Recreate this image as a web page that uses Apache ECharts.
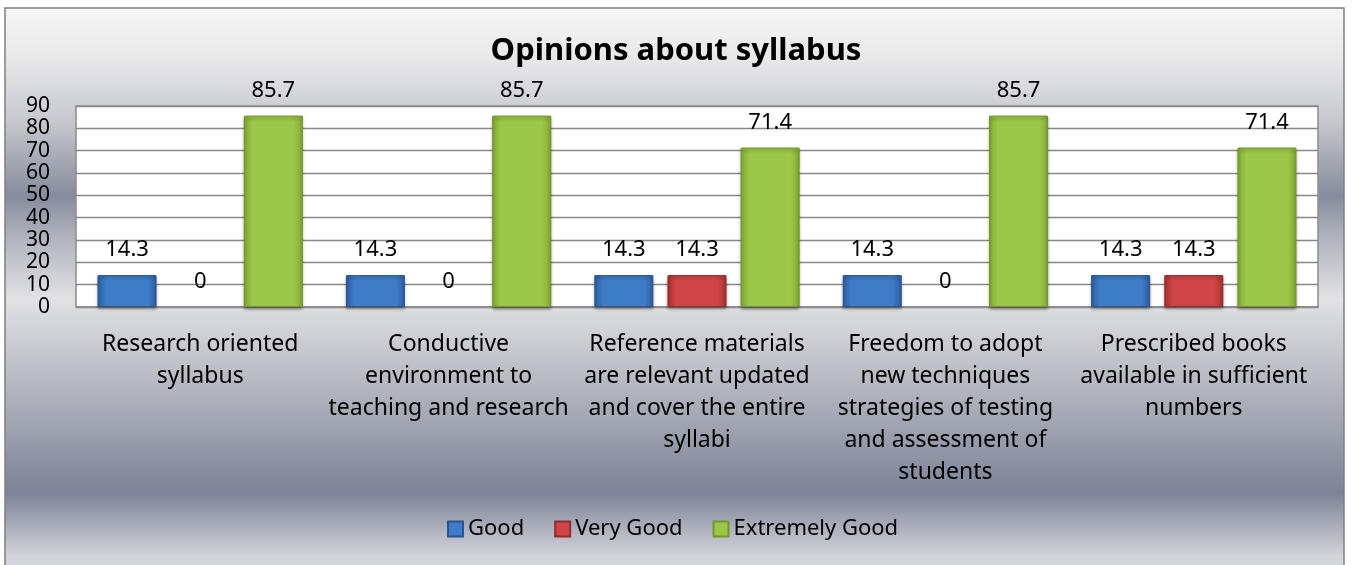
<!DOCTYPE html>
<html>
<head>
    <meta charset="utf-8">
    <title>Opinions about syllabus</title>
    <script src="https://cdn.jsdelivr.net/npm/echarts@6/dist/echarts.min.js"></script>
    <style>
        html, body { margin: 0; padding: 0; background: #fff; }
    </style>
</head>
<body>
    <div id="demo" style="width: 1352px;height:565px;"></div>
    <script type="text/javascript">
        // data
        var categories = [
            'Research oriented\nsyllabus',
            'Conductive\nenvironment to\nteaching and research',
            'Reference materials\nare relevant updated\nand cover the entire\nsyllabi',
            'Freedom to adopt\nnew techniques\nstrategies of testing\nand assessment of\nstudents',
            'Prescribed books\navailable in sufficient\nnumbers'
        ];
        var good = [14.3, 14.3, 14.3, 14.3, 14.3];
        var veryGood = [0, 0, 14.3, 0, 14.3];
        var extremelyGood = [85.7, 85.7, 71.4, 85.7, 71.4];
        var yTicks = { min: 0, max: 90, step: 10 };

        var font = "'Noto Sans', 'Open Sans', sans-serif";

        // bevel-ish bar fill: darker edges, lighter middle
        function barFill(edge, mid) {
            return new echarts.graphic.LinearGradient(0, 0, 1, 0, [
                { offset: 0, color: edge },
                { offset: 0.15, color: mid },
                { offset: 0.85, color: mid },
                { offset: 1, color: edge }
            ]);
        }

        function makeSeries(name, data, edge, mid, border) {
            return {
                name: name,
                type: 'bar',
                // zero bars draw nothing in the original, so hide the bar but keep the label
                data: data.map(function (v) {
                    if (v === 0) {
                        return { value: 0, itemStyle: { borderWidth: 0, opacity: 0 } };
                    }
                    return v;
                }),
                barWidth: 59,
                barGap: '24%',
                itemStyle: {
                    color: barFill(edge, mid),
                    borderColor: border,
                    borderWidth: 1,
                    shadowColor: 'rgba(0,0,0,0.35)',
                    shadowBlur: 3,
                    shadowOffsetY: 2
                },
                label: {
                    show: true,
                    position: 'top',
                    distance: 14,
                    color: '#000',
                    fontSize: 22,
                    fontFamily: font,
                    opacity: 1
                }
            };
        }

        var chart = echarts.init(document.getElementById('demo'));

        var option = {
            backgroundColor: '#fff',
            animation: false,
            graphic: [{
                type: 'rect',
                z: -10,
                silent: true,
                shape: { x: 5, y: 8, width: 1339, height: 570 },
                style: {
                    stroke: '#7f7f7f',
                    lineWidth: 1.5,
                    fill: new echarts.graphic.LinearGradient(0, 0, 0, 1, [
                        { offset: 0, color: '#f7f7f7' },
                        { offset: 0.09, color: '#e8e8e9' },
                        { offset: 0.2, color: '#c6c8cd' },
                        { offset: 0.33, color: '#868c9d' },
                        { offset: 0.39, color: '#a9adb8' },
                        { offset: 0.51, color: '#e2e2e4' },
                        { offset: 0.58, color: '#cdced3' },
                        { offset: 0.72, color: '#a3a7b3' },
                        { offset: 0.85, color: '#7d8397' },
                        { offset: 0.96, color: '#d3d4d9' },
                        { offset: 1, color: '#dadadd' }
                    ])
                }
            }],
            title: {
                text: 'Opinions about syllabus',
                left: 'center',
                top: 31,
                textStyle: {
                    fontFamily: font,
                    fontSize: 31,
                    fontWeight: 'bold',
                    color: '#000'
                }
            },
            legend: {
                bottom: 20,
                left: 442,
                itemWidth: 15,
                itemHeight: 15,
                itemGap: 30,
                icon: 'rect',
                textStyle: { fontFamily: font, fontSize: 22, color: '#000' },
                data: ['Good', 'Very Good', 'Extremely Good']
            },
            grid: {
                left: 76,
                right: 34,
                top: 106,
                bottom: 258,
                show: true,
                backgroundColor: '#fff',
                borderColor: '#8c8c8c',
                borderWidth: 1.5
            },
            xAxis: {
                type: 'category',
                data: categories,
                axisLine: { show: true, lineStyle: { color: '#8c8c8c', width: 1.5 } },
                axisTick: { show: false },
                axisLabel: {
                    interval: 0,
                    margin: 21,
                    color: '#000',
                    fontFamily: font,
                    fontSize: 23,
                    lineHeight: 32,
                    align: 'center'
                }
            },
            yAxis: {
                type: 'value',
                min: yTicks.min,
                max: yTicks.max,
                interval: yTicks.step,
                axisLine: { show: false },
                axisTick: { show: false },
                axisLabel: {
                    margin: 26,
                    color: '#000',
                    fontFamily: font,
                    fontSize: 21
                },
                splitLine: { lineStyle: { color: '#888', width: 1.3 } }
            },
            series: [
                makeSeries('Good', good, '#2d5fa6', '#3f7cc8', '#2a5590'),
                makeSeries('Very Good', veryGood, '#a83232', '#d04646', '#922c2c'),
                makeSeries('Extremely Good', extremelyGood, '#82aa34', '#9cc748', '#739630')
            ]
        };

        chart.setOption(option);
    </script>
</body>
</html>
